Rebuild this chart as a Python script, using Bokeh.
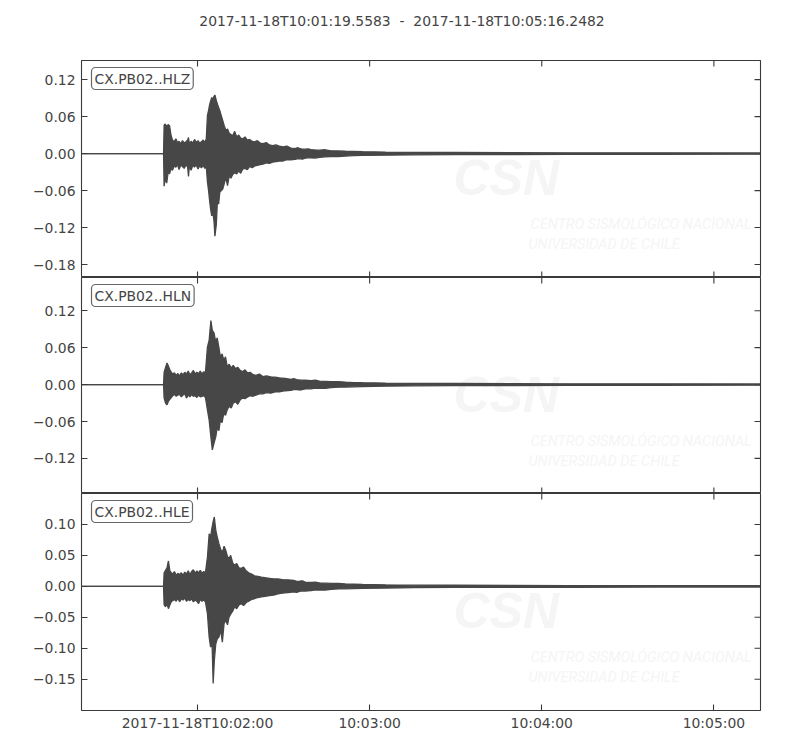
import math
import pandas as pd
from bokeh.plotting import figure
from bokeh.models import Range1d, FixedTicker, LinearAxis, Label, CustomJSTickFormatter
from bokeh.layouts import column
from bokeh.embed import file_html
from bokeh.resources import INLINE

title_text = "2017-11-18T10:01:19.5583  -  2017-11-18T10:05:16.2482"
start_time = "2017-11-18T10:01:19.5583"
end_time = "2017-11-18T10:05:16.2482"
channels = ["CX.PB02..HLZ", "CX.PB02..HLN", "CX.PB02..HLE"]
x_tick_times = ["2017-11-18T10:02:00", "2017-11-18T10:03:00", "2017-11-18T10:04:00", "2017-11-18T10:05:00"]
x_tick_labels = ["2017-11-18T10:02:00", "10:03:00", "10:04:00", "10:05:00"]
y_ticks = [[-0.18, -0.12, -0.06, 0.0, 0.06, 0.12],
           [-0.12, -0.06, 0.0, 0.06, 0.12],
           [-0.15, -0.10, -0.05, 0.0, 0.05, 0.10]]
y_limits = [(-0.201, 0.151), (-0.177, 0.174), (-0.2005, 0.150)]

# envelope of each trace: (seconds after start, upper amplitude, lower amplitude)
hlz_env = [(0, 0, 0), (28.6, 0, 0), (28.8, 0.046, -0.053), (29.2, 0.048, -0.040), (29.7, 0.044, -0.048),
           (30.2, 0.047, -0.030), (30.7, 0.045, -0.033), (31.2, 0.030, -0.024), (31.7, 0.022, -0.027),
           (32.3, 0.019, -0.020), (32.9, 0.024, -0.022), (33.5, 0.017, -0.018), (34.0, 0.020, -0.026),
           (34.6, 0.016, -0.019), (35.2, 0.021, -0.021), (35.8, 0.017, -0.024), (36.4, 0.019, -0.018),
           (37.0, 0.022, -0.022), (37.3, 0.026, -0.037), (37.6, 0.016, -0.020), (38.2, 0.020, -0.027),
           (38.8, 0.017, -0.019), (39.4, 0.023, -0.022), (40.0, 0.018, -0.018), (40.6, 0.021, -0.025),
           (41.2, 0.017, -0.020), (41.8, 0.019, -0.023), (42.4, 0.022, -0.019), (43.0, 0.018, -0.024),
           (43.5, 0.024, -0.021), (43.9, 0.062, -0.046), (44.3, 0.070, -0.060), (44.6, 0.078, -0.074),
           (45.0, 0.085, -0.090), (45.4, 0.091, -0.101), (45.8, 0.088, -0.096), (46.2, 0.093, -0.110),
           (46.5, 0.095, -0.134), (47.0, 0.086, -0.115), (47.4, 0.080, -0.074), (47.8, 0.075, -0.082),
           (48.2, 0.070, -0.063), (48.7, 0.062, -0.060), (49.2, 0.054, -0.058), (49.7, 0.046, -0.050),
           (50.3, 0.038, -0.038), (50.9, 0.040, -0.052), (51.5, 0.033, -0.036), (52.1, 0.031, -0.040),
           (52.7, 0.029, -0.034), (53.4, 0.036, -0.031), (54.1, 0.027, -0.033), (54.8, 0.030, -0.028),
           (55.5, 0.025, -0.032), (56.2, 0.024, -0.025), (57.0, 0.027, -0.024), (57.8, 0.022, -0.026),
           (58.6, 0.023, -0.021), (59.5, 0.020, -0.023), (60.4, 0.019, -0.020), (61.3, 0.021, -0.019),
           (62.3, 0.017, -0.018), (63.3, 0.016, -0.017), (64.4, 0.018, -0.015), (65.5, 0.014, -0.016),
           (66.6, 0.013, -0.014), (67.8, 0.014, -0.013), (69.0, 0.012, -0.012), (70.3, 0.011, -0.012),
           (71.6, 0.012, -0.010), (73.0, 0.009, -0.010), (74.4, 0.008, -0.0095), (75.2, 0.0095, -0.0085),
           (76, 0.0085, -0.008), (77, 0.007, -0.009), (78, 0.0072, -0.0075), (79, 0.0078, -0.0068),
           (80, 0.0065, -0.007), (81.5, 0.0058, -0.0072), (83, 0.0055, -0.006), (85, 0.0062, -0.0052),
           (87, 0.0045, -0.005), (89.5, 0.0042, -0.0048), (92, 0.0038, -0.004), (95, 0.0036, -0.0032),
           (98, 0.003, -0.003), (106, 0.0025, -0.0025), (116, 0.002, -0.002),
           (130, 0.0018, -0.0017), (150, 0.0015, -0.0015), (170, 0.0013, -0.0013), (200, 0.0012, -0.0012),
           (236.6, 0.001, -0.001)]

hln_env = [(0, 0, 0), (28.6, 0, 0), (28.8, 0.020, -0.022), (29.3, 0.028, -0.030), (29.8, 0.035, -0.033),
           (30.3, 0.030, -0.027), (30.8, 0.024, -0.024), (31.3, 0.020, -0.021), (31.8, 0.017, -0.018),
           (32.4, 0.019, -0.016), (33.0, 0.015, -0.019), (33.6, 0.018, -0.017), (34.2, 0.014, -0.016),
           (34.8, 0.019, -0.020), (35.4, 0.016, -0.017), (36.0, 0.020, -0.015), (36.6, 0.017, -0.022),
           (37.2, 0.022, -0.017), (37.8, 0.016, -0.020), (38.4, 0.019, -0.016), (39.0, 0.023, -0.019),
           (39.6, 0.017, -0.018), (40.2, 0.020, -0.021), (40.8, 0.018, -0.017), (41.4, 0.022, -0.020),
           (42.0, 0.017, -0.019), (42.6, 0.021, -0.018), (43.2, 0.019, -0.021), (43.9, 0.061, -0.041),
           (44.5, 0.072, -0.058), (45.1, 0.104, -0.085), (45.6, 0.088, -0.106), (46.2, 0.084, -0.095),
           (46.8, 0.069, -0.085), (47.3, 0.076, -0.070), (47.9, 0.060, -0.075), (48.4, 0.045, -0.058),
           (49.0, 0.050, -0.062), (49.6, 0.040, -0.047), (50.2, 0.045, -0.050), (50.8, 0.029, -0.041),
           (51.5, 0.033, -0.035), (52.2, 0.027, -0.038), (52.9, 0.031, -0.030), (53.7, 0.026, -0.028),
           (54.5, 0.028, -0.032), (55.3, 0.023, -0.025), (56.1, 0.021, -0.022), (57.0, 0.024, -0.023),
           (57.9, 0.019, -0.020), (58.8, 0.020, -0.018), (59.8, 0.016, -0.019), (60.8, 0.015, -0.017),
           (62.0, 0.017, -0.015), (63.2, 0.013, -0.015), (64.5, 0.014, -0.013), (66.0, 0.0126, -0.014),
           (67.5, 0.012, -0.012), (69.0, 0.011, -0.012), (71.0, 0.010, -0.010), (73.0, 0.0085, -0.0095),
           (74.0, 0.0095, -0.0082), (75.0, 0.008, -0.008), (76.5, 0.0072, -0.0088), (78.0, 0.007, -0.007),
           (80, 0.0065, -0.0068), (81.5, 0.0071, -0.0058), (83, 0.0055, -0.006), (85, 0.0052, -0.0061),
           (87, 0.0047, -0.005), (89.5, 0.0049, -0.0043), (92, 0.0038, -0.004), (95, 0.0033, -0.0037),
           (98, 0.003, -0.0032), (106, 0.0025, -0.0026),
           (116, 0.002, -0.0021), (130, 0.0018, -0.0017), (150, 0.0015, -0.0015), (170, 0.0013, -0.0014),
           (200, 0.0012, -0.0012), (236.6, 0.001, -0.001)]

hle_env = [(0, 0, 0), (28.6, 0, 0), (28.8, 0.022, -0.030), (29.3, 0.026, -0.033), (29.8, 0.030, -0.028),
           (30.3, 0.041, -0.036), (30.8, 0.025, -0.030), (31.3, 0.022, -0.025), (31.8, 0.020, -0.023),
           (32.4, 0.024, -0.021), (33.0, 0.018, -0.024), (33.6, 0.021, -0.019), (34.2, 0.019, -0.025),
           (34.8, 0.022, -0.020), (35.4, 0.018, -0.022), (36.0, 0.023, -0.019), (36.6, 0.020, -0.024),
           (37.2, 0.025, -0.021), (37.8, 0.019, -0.023), (38.4, 0.024, -0.020), (39.0, 0.027, -0.025),
           (39.6, 0.021, -0.022), (40.2, 0.025, -0.024), (40.8, 0.022, -0.028), (41.4, 0.026, -0.021),
           (42.0, 0.021, -0.024), (42.6, 0.024, -0.022), (43.2, 0.022, -0.025), (43.9, 0.047, -0.044),
           (44.5, 0.085, -0.082), (45.0, 0.080, -0.098), (45.5, 0.095, -0.090), (45.9, 0.105, -0.157),
           (46.3, 0.112, -0.120), (46.8, 0.091, -0.093), (47.3, 0.080, -0.085), (47.9, 0.069, -0.082),
           (48.5, 0.060, -0.070), (49.1, 0.055, -0.090), (49.7, 0.065, -0.060), (50.3, 0.058, -0.055),
           (50.9, 0.048, -0.062), (51.4, 0.045, -0.050), (52.0, 0.050, -0.045), (52.7, 0.038, -0.040),
           (53.4, 0.034, -0.033), (54.1, 0.037, -0.036), (54.9, 0.030, -0.030), (55.7, 0.029, -0.028),
           (56.5, 0.031, -0.031), (57.4, 0.025, -0.026), (58.3, 0.022, -0.024), (59.3, 0.020, -0.021),
           (60.3, 0.017, -0.020), (61.5, 0.016, -0.018), (62.7, 0.015, -0.017), (64.0, 0.014, -0.016),
           (65.5, 0.013, -0.015), (67.0, 0.012, -0.014), (68.5, 0.012, -0.012), (70.0, 0.011, -0.011),
           (72.0, 0.0105, -0.010), (74.0, 0.0097, -0.009), (75.0, 0.0082, -0.0098), (76.0, 0.0085, -0.008),
           (77.0, 0.0090, -0.0071), (78.0, 0.007, -0.0075), (80, 0.0065, -0.007), (81.5, 0.0068, -0.0058),
           (83, 0.0055, -0.006), (85, 0.0051, -0.0059), (87, 0.0047, -0.005), (89.5, 0.0047, -0.0041),
           (92, 0.0038, -0.004), (95, 0.0034, -0.0036),
           (98, 0.003, -0.0032), (106, 0.0025, -0.0026), (116, 0.002, -0.0021), (130, 0.0018, -0.0017),
           (150, 0.0015, -0.0015), (170, 0.0013, -0.0014), (200, 0.0012, -0.0012), (236.6, 0.001, -0.001)]

envelopes = [hlz_env, hln_env, hle_env]

FONT = "DejaVu Sans"
FS = "13.9px"
TXT = "#444444"
FRAME = "#3a3a3a"
WAVE = "#474747"
WM = "#f5f5f5"

start_ms = pd.Timestamp(start_time).value / 1e6
end_ms = pd.Timestamp(end_time).value / 1e6
x_tick_ms = [pd.Timestamp(t).value / 1e6 for t in x_tick_times]
frame_heights = [217, 216, 217]

x_fmt = CustomJSTickFormatter(args=dict(tick_vals=x_tick_ms, tick_text=x_tick_labels), code="""
    for (let i = 0; i < tick_vals.length; i++) {
        if (Math.abs(tick - tick_vals[i]) < 1) return tick_text[i];
    }
    return '';
""")
y_fmt = CustomJSTickFormatter(code="return tick.toFixed(2).replace('-', '\\u2212');")

# title strip above the panels
head = figure(frame_width=679, frame_height=60, x_range=Range1d(0, 1), y_range=Range1d(0, 1),
              x_axis_location=None, y_axis_location=None, toolbar_location=None,
              output_backend="svg", min_border_left=81, min_border_right=30,
              min_border_top=0, min_border_bottom=0, outline_line_color=None)
head.xgrid.visible = False
head.ygrid.visible = False
head.add_layout(Label(x=320.5, y=40, x_units="screen", y_units="screen",
                      text=title_text.replace("  ", "\u00a0 "), text_font=FONT,
                      text_font_size=FS, text_color=TXT, text_align="center",
                      text_baseline="middle"))

panels = [head]
for i in range(3):
    env = envelopes[i]
    xs = [start_ms + r[0] * 1000 for r in env]
    up = [r[1] for r in env]
    lo = [r[2] for r in env]
    ymin, ymax = y_limits[i]
    fh = frame_heights[i]
    p = figure(frame_width=679, frame_height=fh,
               x_range=Range1d(start_ms, end_ms), y_range=Range1d(ymin, ymax),
               x_axis_location=None, y_axis_location=None,
               toolbar_location=None, output_backend="svg",
               min_border_left=81, min_border_right=30,
               min_border_top=0, min_border_bottom=0)
    p.xgrid.visible = False
    p.ygrid.visible = False
    p.outline_line_color = FRAME
    p.outline_line_width = 1.1
    p.background_fill_color = "white"
    p.border_fill_color = "white"

    xt = FixedTicker(ticks=x_tick_ms, minor_ticks=[])
    yt = FixedTicker(ticks=y_ticks[i], minor_ticks=[])

    left = LinearAxis(ticker=yt, formatter=y_fmt, major_tick_in=6, major_tick_out=0,
                      minor_tick_in=0, minor_tick_out=0, axis_line_color=None,
                      major_tick_line_color=FRAME, major_tick_line_width=1.1,
                      major_label_standoff=6, major_label_text_font=FONT,
                      major_label_text_font_size=FS, major_label_text_color=TXT)
    p.add_layout(left, "left")
    if i == 2:
        bottom = LinearAxis(ticker=xt, formatter=x_fmt, major_tick_in=6, major_tick_out=0,
                            minor_tick_in=0, minor_tick_out=0, axis_line_color=None,
                            major_tick_line_color=FRAME, major_tick_line_width=1.1,
                            major_label_standoff=4, major_label_text_font=FONT,
                            major_label_text_font_size=FS, major_label_text_color=TXT)
        p.add_layout(bottom, "below")

    # faint watermark
    p.add_layout(Label(x=372, y=fh - 145, x_units="screen", y_units="screen", text="CSN",
                       text_font="Liberation Sans", text_font_style="bold italic",
                       text_font_size="50px", text_color=WM, level="underlay"))
    p.add_layout(Label(x=449, y=fh - 172, x_units="screen", y_units="screen",
                       text="CENTRO SISMOLÓGICO NACIONAL", text_font="Roboto",
                       text_font_style="italic", text_font_size="14.5px", text_color=WM, level="underlay"))
    p.add_layout(Label(x=447, y=fh - 192, x_units="screen", y_units="screen",
                       text="UNIVERSIDAD DE CHILE", text_font="Roboto",
                       text_font_style="italic", text_font_size="14.5px", text_color=WM, level="underlay"))

    # inward ticks on the unlabelled sides (top, right, and bottom of upper panels)
    p.scatter(x=x_tick_ms, y=[ymax] * len(x_tick_ms), marker="dash", angle=math.pi / 2, size=12,
              line_color=FRAME, line_width=1.1)
    if i < 2:
        p.scatter(x=x_tick_ms, y=[ymin] * len(x_tick_ms), marker="dash", angle=math.pi / 2, size=12,
                  line_color=FRAME, line_width=1.1)
    p.scatter(x=[end_ms] * len(y_ticks[i]), y=y_ticks[i], marker="dash", size=12,
              line_color=FRAME, line_width=1.1)

    p.varea(x=xs, y1=lo, y2=up, fill_color=WAVE)
    p.line(xs, up, line_color=WAVE, line_width=1.3)
    p.line(xs, lo, line_color=WAVE, line_width=1.3)

    p.add_layout(Label(x=10, y=fh - 7, x_units="screen", y_units="screen", text=channels[i],
                       text_font=FONT, text_font_size=FS, text_color=TXT,
                       text_align="left", text_baseline="top", padding=3,
                       border_line_color="#666666", border_line_width=1.2, border_radius=4,
                       background_fill_color="white"))
    panels.append(p)

layout = column(*panels, spacing=0)
open("out.html", "w").write(file_html(layout, INLINE))
